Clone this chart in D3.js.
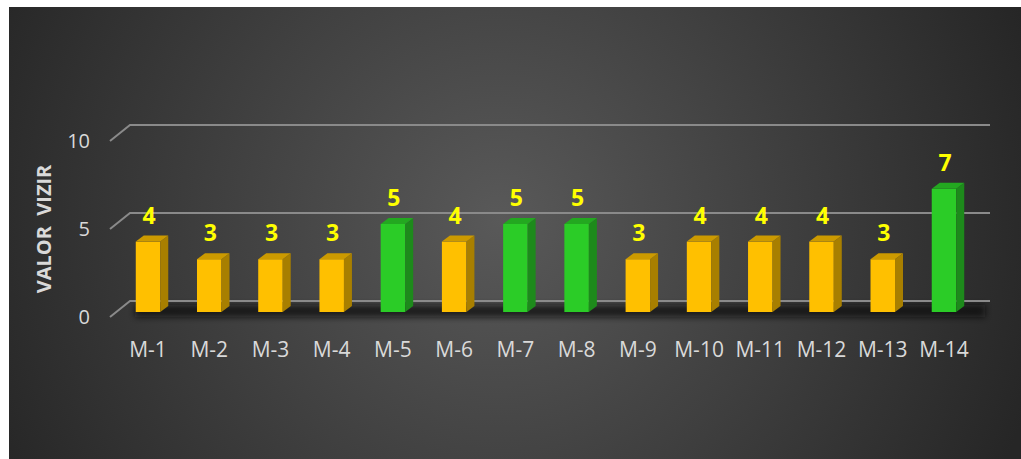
<!DOCTYPE html>
<html>
<head>
<meta charset="utf-8">
<script src="https://cdn.jsdelivr.net/npm/d3@7"></script>
<style>
  body { margin: 0; background: #fff; }
  svg { display: block; }
</style>
</head>
<body>
<svg id="chart" width="1021" height="459"></svg>
<script>
// data
var categories = ["M-1", "M-2", "M-3", "M-4", "M-5", "M-6", "M-7", "M-8", "M-9", "M-10", "M-11", "M-12", "M-13", "M-14"];
var values = [4, 3, 3, 3, 5, 4, 5, 5, 3, 4, 4, 4, 3, 7];
var yTicks = [0, 5, 10];
var yTitle = "VALOR  VIZIR";

var svg = d3.select("#chart");
var defs = svg.append("defs");

// background
var bg = defs.append("radialGradient").attr("id", "bg")
    .attr("gradientUnits", "userSpaceOnUse")
    .attr("cx", 500).attr("cy", 220).attr("r", 560);
bg.append("stop").attr("offset", "0%").attr("stop-color", "#595959");
bg.append("stop").attr("offset", "100%").attr("stop-color", "#262626");

var blur = defs.append("filter").attr("id", "blur")
    .attr("x", "-10%").attr("y", "-100%").attr("width", "120%").attr("height", "300%");
blur.append("feGaussianBlur").attr("stdDeviation", 3);

svg.append("rect").attr("x", 9).attr("y", 7).attr("width", 1012).attr("height", 452)
    .attr("fill", "url(#bg)");

// 3d geometry: back wall, front plane offset, bar offset
var x = d3.scalePoint().domain(categories).range([117.4, 974.6]).padding(0.5);
var y = d3.scaleLinear().domain([0, 10]).range([301, 125]);
var wallLeft = 130, wallRight = 990;
var front = { dx: -20, dy: 16 };
var barOff = 11;      // bar front face below back wall
var bw = 24.5, dpx = 8, dpy = -6;
var font = "Open Sans, Noto Sans, sans-serif";

// floor shadow
svg.append("rect")
    .attr("x", wallLeft + 5).attr("y", y(0) + 4)
    .attr("width", wallRight - wallLeft - 10).attr("height", 12)
    .attr("fill", "#111").attr("opacity", 0.75)
    .attr("filter", "url(#blur)");

// gridlines
var grid = svg.append("g").attr("stroke", "#8a8a8a").attr("stroke-width", 2).attr("fill", "none");
yTicks.forEach(function (t) {
    grid.append("polyline")
        .attr("points", [
            [wallLeft + front.dx, y(t) + front.dy],
            [wallLeft, y(t)],
            [wallRight, y(t)]
        ].map(function (p) { return p.join(","); }).join(" "));
});

// tick labels
svg.append("g").selectAll("text").data(yTicks).join("text")
    .attr("x", 90).attr("y", function (d) { return y(d) + front.dy; })
    .attr("dy", "0.35em")
    .attr("text-anchor", "end")
    .attr("font-family", font).attr("font-size", 20)
    .attr("fill", "#d9d9d9")
    .text(function (d) { return d; });

// y title
svg.append("text")
    .attr("transform", "translate(51,229) rotate(-90)")
    .attr("text-anchor", "middle")
    .attr("font-family", font).attr("font-size", 20).attr("font-weight", "bold")
    .attr("fill", "#d9d9d9")
    .attr("xml:space", "preserve")
    .text(yTitle);

// bars
function colors(v) {
    return v >= 5
        ? { front: "#2bcc27", side: "#1d8a1b", top: "#23a820" }
        : { front: "#ffc000", side: "#a87f00", top: "#cc9a00" };
}

var bars = svg.append("g").selectAll("g").data(values).join("g");
bars.each(function (v, i) {
    var g = d3.select(this);
    var c = colors(v);
    var x0 = x(categories[i]) - bw / 2, x1 = x0 + bw;
    var yb = y(0) + barOff, yt = y(v) + barOff;
    g.append("rect").attr("x", x0).attr("y", yt).attr("width", bw).attr("height", yb - yt)
        .attr("fill", c.front);
    g.append("polygon").attr("fill", c.side).attr("points", [
        [x1, yt], [x1 + dpx, yt + dpy], [x1 + dpx, yb + dpy], [x1, yb]
    ].join(" "));
    g.append("polygon").attr("fill", c.top).attr("points", [
        [x0, yt], [x0 + dpx, yt + dpy], [x1 + dpx, yt + dpy], [x1, yt]
    ].join(" "));
    g.append("text")
        .attr("x", x(categories[i]) + 1).attr("y", yt + dpy - 12)
        .attr("text-anchor", "middle")
        .attr("font-family", font).attr("font-size", 23).attr("font-weight", "bold")
        .attr("fill", "#ffff00")
        .text(v);
});

// category labels
svg.append("g").selectAll("text").data(categories).join("text")
    .attr("x", function (d) { return x(d); })
    .attr("y", 357)
    .attr("text-anchor", "middle")
    .attr("font-family", font).attr("font-size", 21)
    .attr("fill", "#d9d9d9")
    .text(function (d) { return d; });
</script>
</body>
</html>
